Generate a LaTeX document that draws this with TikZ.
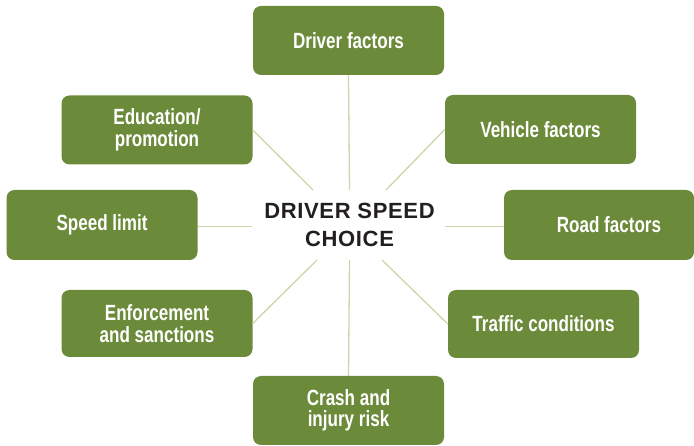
\documentclass[tikz,border=0pt]{standalone}
\usepackage{fontspec}
\setmainfont{Liberation Sans}
\newfontfamily\boxfont{Liberation Sans}[FakeStretch=0.775]
\newfontfamily\ctrfont{Liberation Sans}[LetterSpace=3]
\definecolor{boxgreen}{RGB}{107,138,58}
\definecolor{linegreen}{RGB}{204,214,168}
\definecolor{ctrtext}{RGB}{35,31,32}
\tikzset{
  factor/.style={draw=none, fill=boxgreen, rounded corners=8pt, minimum width=191pt,
    minimum height=69pt, inner sep=0pt, align=center, text=white,
    font=\boxfont\bfseries\fontsize{22}{21.5}\selectfont},
  spoke/.style={draw=linegreen, line width=1.3pt},
  hub/.style={inner sep=0pt, align=center, text=ctrtext,
    font=\ctrfont\bfseries\fontsize{22}{28}\selectfont}
}
\begin{document}
\begin{tikzpicture}[x=1pt,y=-1pt]
\useasboundingbox (0,0) rectangle (694,446);
\node[factor] (drv) at (348.5,40.5) {Driver factors};
\node[factor] (edu) at (157,130) {Education/\\promotion};
\node[factor] (veh) at (540.5,129.5) {Vehicle factors};
\node[factor, minimum height=70pt] (spd) at (102,225) {Speed limit};
\node[factor, minimum height=70pt, minimum width=190pt] (road) at (599,225) {\hspace*{20pt}Road factors};
\node[factor, minimum height=67pt] (enf) at (157,323.5) {Enforcement\\and sanctions};
\node[factor, minimum height=68pt] (trf) at (543.5,324) {Traffic conditions};
\node[factor] (crash) at (348.5,410.5) {Crash and\\injury risk};
\node[hub] (ctr) at (349.5,224.5) {DRIVER SPEED\\CHOICE};
\coordinate (iN) at (349.5,190);
\coordinate (iNW) at (313,190);
\coordinate (iNE) at (386,190);
\coordinate (iW) at (252,226.5);
\coordinate (iE) at (445,226.5);
\coordinate (iSW) at (317,260);
\coordinate (iSE) at (382,260);
\coordinate (iS) at (349.5,260);
\draw[spoke] (drv.south) -- (iN);
\draw[spoke] (edu.east) -- (iNW);
\draw[spoke] (veh.west) -- (iNE);
\draw[spoke] (spd.east |- iW) -- (iW);
\draw[spoke] (road.west |- iE) -- (iE);
\draw[spoke] (enf.east) -- (iSW);
\draw[spoke] (trf.west) -- (iSE);
\draw[spoke] (crash.north) -- (iS);
\end{tikzpicture}
\end{document}
